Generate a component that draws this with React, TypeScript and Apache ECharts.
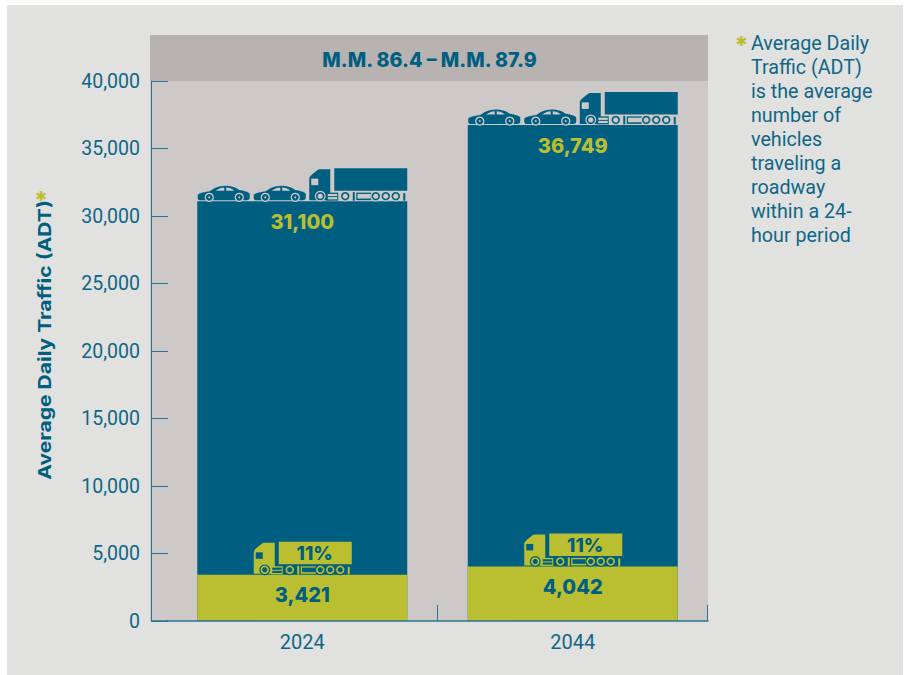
import React, { useEffect, useRef } from "react";
import * as echarts from "echarts";

const categories = ["2024", "2044"];
const totalTraffic = [31100, 36749];
const truckTraffic = [3421, 4042];
const truckShare = ["11%", "11%"];
const yTicks = { min: 0, max: 40000, interval: 5000 };
const segmentTitle = "M.M. 86.4 – M.M. 87.9";
const yAxisTitle = "Average Daily Traffic (ADT)";
const noteText =
  "Average Daily\nTraffic (ADT)\nis the average\nnumber of\nvehicles\ntraveling a\nroadway\nwithin a 24-\nhour period";

const BLUE = "#005f80";
const OLIVE = "#b9bf30";
const TEXT = "#0f6788";
const AXIS = "#2a7391";
const PAGE = "#e1e1df";
const PLOT = "#cdc9c8";
const BAND = "#b8b2b1";
const BAR_W = 210;

const CAR_BODY =
  "M0,9.5 C2,7.5 7,6.8 12,6 C16,3 20,0.8 28,0.5 C33,0.5 37,1.5 41,4.5 C46,5.5 51,6.5 52,8.5 L52,12.5 C52,14 51,15 49,15 L2,15 C0.5,15 0,14 0,12.5 Z";
const CAR_WIN1 = "M18,5.6 C20.5,3.6 23,2.6 26.5,2.4 L26.5,5.6 Z";
const CAR_WIN2 = "M28.5,2.4 C31.5,2.4 34,3.4 36.5,5.6 L28.5,5.6 Z";
const CAB = "M0,32 L0,11 C0,9 1,7.5 3,6 L8,2 C9,1 10,1 11,1 L21,1 L21,32 Z";

function wheel(cx: number, cy: number, r: number, hole: number, fg: string, bg: string) {
  return [
    { type: "circle", shape: { cx, cy, r: r + 1.2 }, style: { fill: bg } },
    { type: "circle", shape: { cx, cy, r }, style: { fill: fg } },
    { type: "circle", shape: { cx, cy, r: hole }, style: { fill: bg } },
  ];
}

function car(x: number, fg: string, bg: string) {
  return {
    type: "group",
    x,
    y: -16,
    children: [
      { type: "path", shape: { pathData: CAR_BODY, layout: "none" }, style: { fill: fg } },
      { type: "path", shape: { pathData: CAR_WIN1, layout: "none" }, style: { fill: bg } },
      { type: "path", shape: { pathData: CAR_WIN2, layout: "none" }, style: { fill: bg } },
      ...wheel(11.5, 12.2, 3.4, 0.9, fg, bg),
      ...wheel(41.5, 12.2, 3.4, 0.9, fg, bg),
    ],
  };
}

function truck(x: number, fg: string, bg: string, label?: string) {
  const children: any[] = [
    { type: "path", shape: { pathData: CAB, layout: "none" }, style: { fill: fg } },
    { type: "rect", shape: { x: 2, y: 10.5, width: 7, height: 6.5 }, style: { fill: bg } },
    { type: "rect", shape: { x: 25, y: 0, width: 73, height: 22.5 }, style: { fill: fg } },
    { type: "rect", shape: { x: 17, y: 24.5, width: 12, height: 8 }, style: { fill: fg } },
    { type: "rect", shape: { x: 18.5, y: 25.8, width: 9.5, height: 2.2 }, style: { fill: bg } },
    { type: "rect", shape: { x: 18.5, y: 29, width: 9.5, height: 2.2 }, style: { fill: bg } },
    { type: "rect", shape: { x: 43.5, y: 24, width: 2, height: 8.5 }, style: { fill: fg } },
    { type: "rect", shape: { x: 47, y: 24.5, width: 15, height: 7.5 }, style: { fill: fg } },
    { type: "rect", shape: { x: 48.3, y: 25.8, width: 13, height: 4.6 }, style: { fill: bg } },
    { type: "rect", shape: { x: 94, y: 25, width: 2, height: 7.5 }, style: { fill: fg } },
    ...wheel(11, 28, 4.2, 2.6, fg, bg),
    ...wheel(36, 28, 4.2, 2.6, fg, bg),
    ...wheel(66.5, 28, 4.2, 2.6, fg, bg),
    ...wheel(76.5, 28, 4.2, 2.6, fg, bg),
    ...wheel(86.5, 28, 4.2, 2.6, fg, bg),
  ];
  if (label) {
    children.push({
      type: "text",
      x: 61,
      y: 12,
      style: {
        text: label,
        fill: bg,
        font: "800 19px Inter",
        align: "center",
        verticalAlign: "middle",
      },
    });
  }
  return { type: "group", x, y: -33, children };
}

export default function App() {
  const ref = useRef<HTMLDivElement>(null);
  useEffect(() => {
    const chart = echarts.init(ref.current!, null, { renderer: "svg" });
    chart.setOption({
      animation: false,
      backgroundColor: "#ffffff",
      title: {
        text: segmentTitle,
        left: 424.5,
        top: 45,
        textAlign: "center",
        textStyle: { fontFamily: "Inter", fontWeight: 800, fontSize: 19.6, color: BLUE },
      },
      grid: { left: 167, right: 198, top: 81, bottom: 54 },
      xAxis: {
        type: "category",
        data: categories,
        axisLine: { show: true, lineStyle: { color: AXIS, width: 1.5 } },
        axisTick: { show: false },
        axisLabel: { fontFamily: "Roboto", fontSize: 20, color: TEXT, margin: 11 },
        z: 5,
      },
      yAxis: {
        type: "value",
        ...yTicks,
        offset: 16,
        splitLine: { show: false },
        axisLine: { show: true, lineStyle: { color: AXIS, width: 1 } },
        axisTick: { show: true, inside: true, length: 17, lineStyle: { color: AXIS, width: 1 } },
        axisLabel: { fontFamily: "Roboto", fontSize: 19.5, color: TEXT, margin: 11 },
      },
      series: [
        {
          type: "bar",
          name: "Total ADT",
          data: totalTraffic,
          barWidth: BAR_W,
          barGap: "-100%",
          itemStyle: { color: BLUE },
          label: {
            show: true,
            position: "insideTop",
            distance: 11,
            formatter: (p: any) => p.value.toLocaleString("en-US"),
            fontFamily: "Inter",
            fontWeight: 800,
            fontSize: 20,
            color: OLIVE,
          },
        },
        {
          type: "bar",
          name: "Truck ADT",
          data: truckTraffic.map((value, i) => ({
            value,
            label: { offset: [0, i === 0 ? -3 : -7] },
          })),
          barWidth: BAR_W,
          barGap: "-100%",
          itemStyle: { color: OLIVE },
          label: {
            show: true,
            position: "inside",
            formatter: (p: any) => p.value.toLocaleString("en-US"),
            fontFamily: "Inter",
            fontWeight: 800,
            fontSize: 20,
            color: BLUE,
          },
        },
        {
          type: "custom",
          name: "Total vehicles",
          data: totalTraffic.map((v, i) => [i, v]),
          z: 4,
          silent: true,
          renderItem: (_: any, api: any) => {
            const [cx, y] = api.coord([api.value(0), api.value(1)]);
            const l = cx - BAR_W / 2;
            return {
              type: "group",
              x: l,
              y,
              children: [car(0.5, BLUE, PLOT), car(56.5, BLUE, PLOT), truck(112, BLUE, PLOT)],
            };
          },
        },
        {
          type: "custom",
          name: "Truck vehicles",
          data: truckTraffic.map((v, i) => [i, v]),
          z: 4,
          silent: true,
          renderItem: (params: any, api: any) => {
            const [cx, y] = api.coord([api.value(0), api.value(1)]);
            const l = cx - BAR_W / 2;
            return {
              type: "group",
              x: l,
              y,
              children: [truck(56.5, OLIVE, BLUE, truckShare[params.dataIndex])],
            };
          },
        },
      ],
      graphic: [
        { type: "rect", z: -3, silent: true, shape: { x: 7, y: 5, width: 896, height: 670 }, style: { fill: PAGE } },
        { type: "rect", z: -2, silent: true, shape: { x: 150, y: 35, width: 558, height: 46 }, style: { fill: BAND } },
        { type: "rect", z: -2, silent: true, shape: { x: 150, y: 81, width: 558, height: 540 }, style: { fill: PLOT } },
        { type: "line", z: 5, silent: true, shape: { x1: 151, y1: 621, x2: 168, y2: 621 }, style: { stroke: AXIS, lineWidth: 1.5 } },
        { type: "line", z: 5, silent: true, shape: { x1: 437.5, y1: 605, x2: 437.5, y2: 621 }, style: { stroke: AXIS, lineWidth: 1 } },
        { type: "line", z: 5, silent: true, shape: { x1: 707.5, y1: 605, x2: 707.5, y2: 621 }, style: { stroke: AXIS, lineWidth: 1 } },
        {
          type: "text",
          x: 45,
          y: 340,
          rotation: Math.PI / 2,
          scaleX: 1.17,
          silent: true,
          style: {
            text: yAxisTitle,
            fill: BLUE,
            font: "700 18px Inter",
            align: "center",
            verticalAlign: "middle",
          },
        },
        {
          type: "text",
          x: 41,
          y: 200,
          silent: true,
          style: { text: "*", fill: OLIVE, font: "800 24px Inter", align: "center", verticalAlign: "middle" },
        },
        {
          type: "text",
          x: 741.5,
          y: 45,
          silent: true,
          style: { text: "*", fill: OLIVE, font: "800 24px Inter", align: "center", verticalAlign: "middle" },
        },
        {
          type: "text",
          x: 751,
          y: 31,
          silent: true,
          style: { text: noteText, fill: TEXT, font: "400 19.7px Roboto", lineHeight: 24, align: "left", verticalAlign: "top" },
        },
      ],
    });
    return () => chart.dispose();
  }, []);
  return <div ref={ref} style={{ position: "absolute", left: 0, top: 0, width: 906, height: 675 }} />;
}
